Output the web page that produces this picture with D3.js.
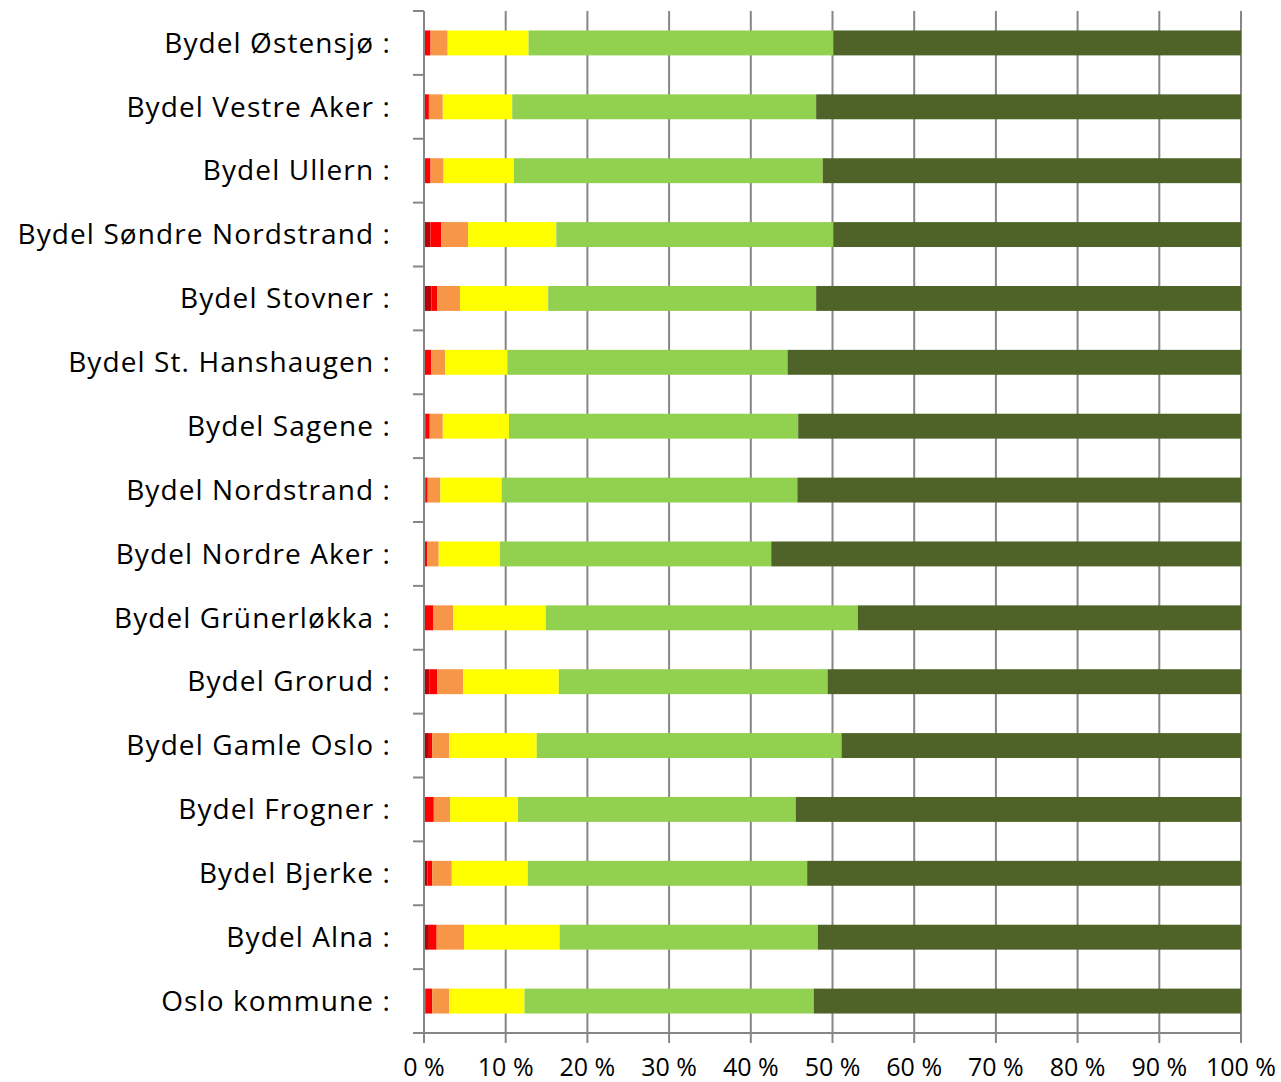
<!DOCTYPE html>
<html><head><meta charset="utf-8">
<script src="https://cdn.jsdelivr.net/npm/d3@7"></script>
<style>body{margin:0;background:#fff}svg{display:block}</style>
</head><body>
<script>
const categories = ["Bydel Østensjø :","Bydel Vestre Aker :","Bydel Ullern :","Bydel Søndre Nordstrand :","Bydel Stovner :","Bydel St. Hanshaugen :","Bydel Sagene :","Bydel Nordstrand :","Bydel Nordre Aker :","Bydel Grünerløkka :","Bydel Grorud :","Bydel Gamle Oslo :","Bydel Frogner :","Bydel Bjerke :","Bydel Alna :","Oslo kommune :"];
const seriesNames = ["s1","s2","s3","s4","s5","s6"];
const s1 = [0.1,0.1,0.1,0.8,0.9,0.1,0.2,0.15,0.05,0.1,0.7,0.6,0.1,0.4,0.6,0.2];
const s2 = [0.7,0.5,0.7,1.3,0.7,0.8,0.5,0.3,0.35,1.0,0.9,0.4,1.1,0.6,0.95,0.8];
const s3 = [2.1,1.7,1.6,3.3,2.8,1.7,1.6,1.55,1.4,2.5,3.2,2.1,2.0,2.4,3.35,2.1];
const s4 = [9.9,8.5,8.6,10.8,10.8,7.6,8.1,7.5,7.5,11.3,11.7,10.7,8.3,9.3,11.7,9.2];
const s5 = [37.3,37.2,37.8,33.9,32.8,34.3,35.4,36.2,33.2,38.2,32.9,37.3,34.0,34.2,31.6,35.4];
const s6 = [49.9,52.0,51.2,49.9,52.0,55.5,54.2,54.3,57.5,46.9,50.6,48.9,54.5,53.1,51.8,52.3];
const colors = ["#c00000","#ff0000","#f79646","#ffff00","#92d050","#4f6228"];
const xTicks = [0,10,20,30,40,50,60,70,80,90,100];

const W=1281,H=1082;
const m={left:424,right:40,top:11,bottom:49};
const svg=d3.select("body").append("svg").attr("width",W).attr("height",H);
const x=d3.scaleLinear().domain([0,100]).range([m.left,W-m.right]);
const y=d3.scaleBand().domain(categories).range([m.top,H-m.bottom]).paddingInner(0.61).paddingOuter(0.305);
const yb=d3.scaleBand().domain(categories).range([m.top,H-m.bottom]);

const rows=categories.map((c,i)=>{const o={cat:c};[s1,s2,s3,s4,s5,s6].forEach((s,j)=>o[seriesNames[j]]=s[i]);return o;});
const stack=d3.stack().keys(seriesNames)(rows);
const axisColor="#868686";
const font="'Open Sans', Lato, sans-serif";

// gridlines
svg.append("g").selectAll("line").data(xTicks.slice(1)).join("line")
 .attr("x1",d=>x(d)).attr("x2",d=>x(d)).attr("y1",m.top).attr("y2",H-m.bottom)
 .attr("stroke",axisColor).attr("stroke-width",2);

// bars
svg.append("g").selectAll("g").data(stack).join("g").attr("fill",(d,i)=>colors[i])
 .selectAll("rect").data(d=>d).join("rect")
 .attr("x",d=>x(d[0])).attr("width",d=>x(d[1])-x(d[0]))
 .attr("y",d=>y(d.data.cat)).attr("height",y.bandwidth());

// y axis
const ya=svg.append("g");
ya.append("line").attr("x1",m.left).attr("x2",m.left).attr("y1",m.top).attr("y2",H-m.bottom).attr("stroke",axisColor).attr("stroke-width",2);
const bounds=categories.map(c=>yb(c)).concat([H-m.bottom]);
ya.selectAll("line.t").data(bounds).join("line").attr("class","t")
 .attr("x1",m.left-11).attr("x2",m.left).attr("y1",d=>d).attr("y2",d=>d).attr("stroke",axisColor).attr("stroke-width",2);
ya.selectAll("text").data(categories).join("text")
 .attr("x",m.left-33).attr("y",d=>y(d)+y.bandwidth()/2).attr("dy","0.35em")
 .attr("text-anchor","end").attr("font-family",font).attr("font-size",28)
 .attr("letter-spacing","1.1px").attr("fill","#000").text(d=>d);

// x axis
const xa=svg.append("g").attr("transform",`translate(0,${H-m.bottom})`);
xa.append("line").attr("x1",m.left).attr("x2",x(100)).attr("stroke",axisColor).attr("stroke-width",2);
xa.selectAll("line.t").data(xTicks).join("line").attr("class","t")
 .attr("x1",d=>x(d)).attr("x2",d=>x(d)).attr("y1",0).attr("y2",10).attr("stroke",axisColor).attr("stroke-width",2);
xa.selectAll("text").data(xTicks).join("text")
 .attr("x",d=>x(d)).attr("y",43).attr("text-anchor","middle")
 .attr("font-family",font).attr("font-size",25).attr("fill","#000").text(d=>d+" %");
</script>
</body></html>
